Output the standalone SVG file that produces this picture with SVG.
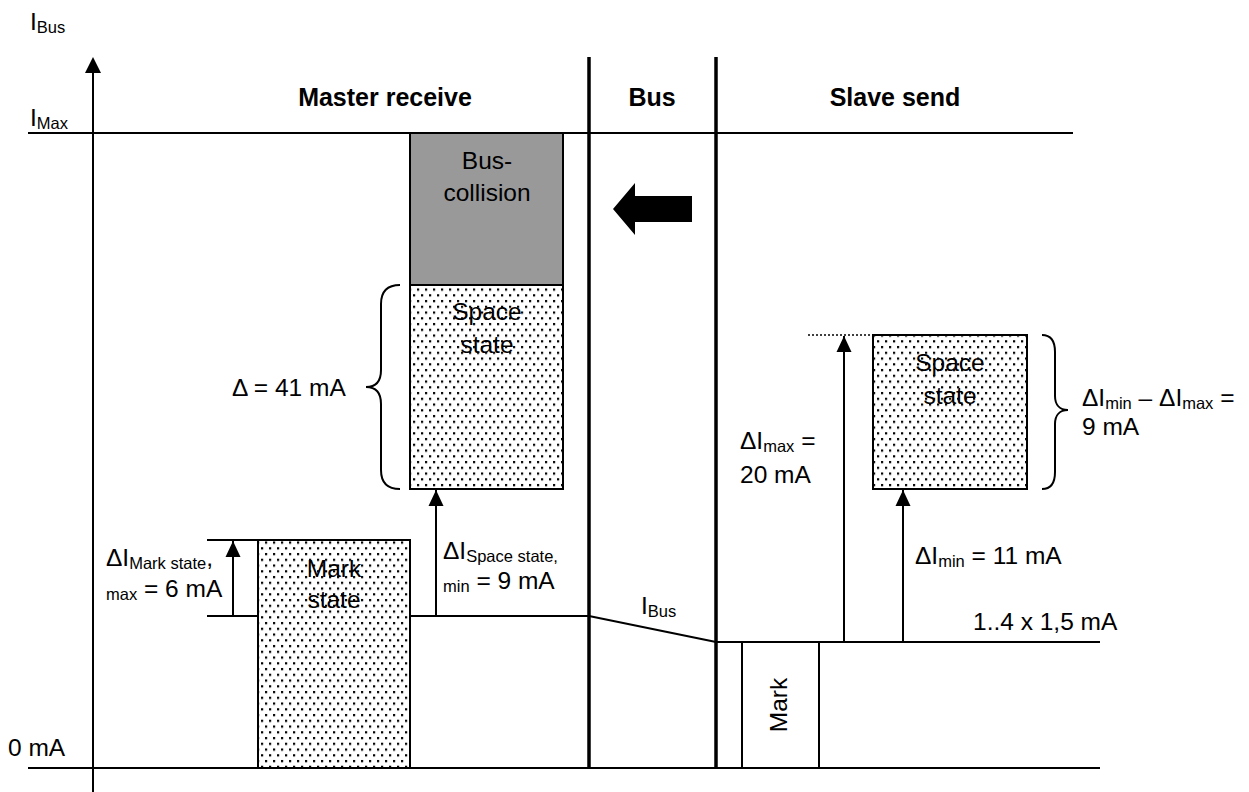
<svg xmlns="http://www.w3.org/2000/svg" width="1249" height="792" viewBox="0 0 1249 792">
<style>
text{font-family:"Liberation Sans",Arial,sans-serif;font-size:24.5px;fill:#000}
.h{font-weight:bold;font-size:25px}
.s{font-size:16.5px}
.ln{stroke:#000;stroke-width:2;fill:none}
.thick{stroke:#000;stroke-width:3.5;fill:none}
.dot{fill:url(#dots);stroke:#000;stroke-width:2}
.c{text-anchor:middle}
</style>
<defs>
<pattern id="dots" width="8" height="11.5" patternUnits="userSpaceOnUse">
<rect width="8" height="11.5" fill="#fff"/>
<rect x="1" y="1" width="2.2" height="2.2" fill="#000"/>
<rect x="5" y="6.75" width="2.2" height="2.2" fill="#000"/>
</pattern>
<marker id="ah" markerUnits="userSpaceOnUse" markerWidth="16" markerHeight="16" refX="16" refY="7.5" orient="auto" viewBox="0 0 16 15" overflow="visible">
<path d="M0,0 L16,7.5 L0,15 Z" fill="#000"/>
</marker>
</defs>

<g id="axes">
<line class="ln" x1="93" y1="70" x2="93" y2="792"/>
<path d="M85,73 L93,57 L101,73 Z" fill="#000"/>
<line class="ln" x1="28" y1="133" x2="1073" y2="133"/>
<line class="ln" x1="28" y1="768" x2="1100" y2="768"/>
<line class="thick" x1="589" y1="57" x2="589" y2="768"/>
<line class="thick" x1="716" y1="57" x2="716" y2="768"/>
<text x="30" y="30">I<tspan class="s" dy="3">Bus</tspan></text>
<text x="30" y="126">I<tspan class="s" dy="3">Max</tspan></text>
<text x="8" y="756">0 mA</text>
</g>

<g id="headers">
<text class="h c" x="385" y="106">Master receive</text>
<text class="h c" x="652" y="106">Bus</text>
<text class="h c" x="895" y="106">Slave send</text>
</g>

<g id="bus-collision">
<rect x="410" y="133" width="153" height="152" fill="#999" stroke="#000" stroke-width="2"/>
<text class="c" x="487" y="169">Bus-</text>
<text class="c" x="487" y="201">collision</text>
</g>

<g id="collision-arrow">
<path d="M613,209 L635,183 L635,196 L692,196 L692,222 L635,222 L635,235 Z" fill="#000"/>
</g>

<g id="space-state-master">
<rect class="dot" x="410" y="285" width="153" height="204"/>
<text class="c" x="487" y="320">Space</text>
<text class="c" x="487" y="353">state</text>
</g>

<g id="brace-master">
<path class="ln" d="M400,285 C387,285 381,292 381,304 L381,370 C381,381 376,387 366,387 C376,387 381,393 381,404 L381,470 C381,482 387,489 400,489"/>
<text x="232" y="396">Δ = 41 mA</text>
</g>

<g id="mark-state-master">
<rect class="dot" x="258" y="540" width="152" height="228"/>
<text class="c" x="334" y="577">Mark</text>
<text class="c" x="334" y="608">state</text>
</g>

<g id="space-state-slave">
<rect class="dot" x="873" y="335" width="154" height="154"/>
<text class="c" x="950" y="371">Space</text>
<text class="c" x="950" y="404">state</text>
</g>

<g id="brace-slave">
<path class="ln" d="M1042,335 C1052,335 1055,342 1055,352 L1055,396 C1055,405 1060,410 1068,410 C1060,410 1055,415 1055,424 L1055,472 C1055,482 1052,489 1042,489"/>
<text x="1082" y="406">ΔI<tspan class="s" dy="3">min</tspan><tspan dy="-3"> – ΔI</tspan><tspan class="s" dy="3">max</tspan><tspan dy="-3"> =</tspan></text>
<text x="1082" y="435">9 mA</text>
</g>

<g id="mark-slave">
<rect x="742" y="642" width="77" height="126" fill="#fff" stroke="#000" stroke-width="2"/>
<text class="c" transform="translate(787,705) rotate(-90)">Mark</text>
</g>

<g id="connectors">
<line class="ln" x1="207" y1="540" x2="258" y2="540"/>
<line class="ln" x1="207" y1="616" x2="258" y2="616"/>
<line class="ln" x1="410" y1="616" x2="589" y2="616"/>
<line class="ln" x1="589" y1="616" x2="716" y2="642"/>
<line class="ln" x1="716" y1="642" x2="1100" y2="642"/>
<line class="ln" x1="233" y1="616" x2="233" y2="541" marker-end="url(#ah)"/>
<line class="ln" x1="436" y1="616" x2="436" y2="490" marker-end="url(#ah)"/>
<line class="ln" x1="844" y1="642" x2="844" y2="336" marker-end="url(#ah)"/>
<line class="ln" x1="903" y1="642" x2="903" y2="490" marker-end="url(#ah)"/>
<line x1="808" y1="335" x2="873" y2="335" stroke="#000" stroke-width="1.5" stroke-dasharray="2,2"/>
</g>

<g id="labels">
<text x="106" y="566">ΔI<tspan class="s" dy="3">Mark state</tspan><tspan dy="-3">,</tspan></text>
<text x="106" y="597"><tspan class="s" dy="3">max</tspan><tspan dy="-3"> = 6 mA</tspan></text>
<text x="443" y="559">ΔI<tspan class="s" dy="3">Space state,</tspan></text>
<text x="443" y="589"><tspan class="s" dy="3">min</tspan><tspan dy="-3"> = 9 mA</tspan></text>
<text x="641" y="614">I<tspan class="s" dy="3">Bus</tspan></text>
<text x="740" y="449">ΔI<tspan class="s" dy="3">max</tspan><tspan dy="-3"> =</tspan></text>
<text x="740" y="483">20 mA</text>
<text x="915" y="564">ΔI<tspan class="s" dy="3">min</tspan><tspan dy="-3"> = 11 mA</tspan></text>
<text x="973" y="630">1..4 x 1,5 mA</text>
</g>
</svg>
